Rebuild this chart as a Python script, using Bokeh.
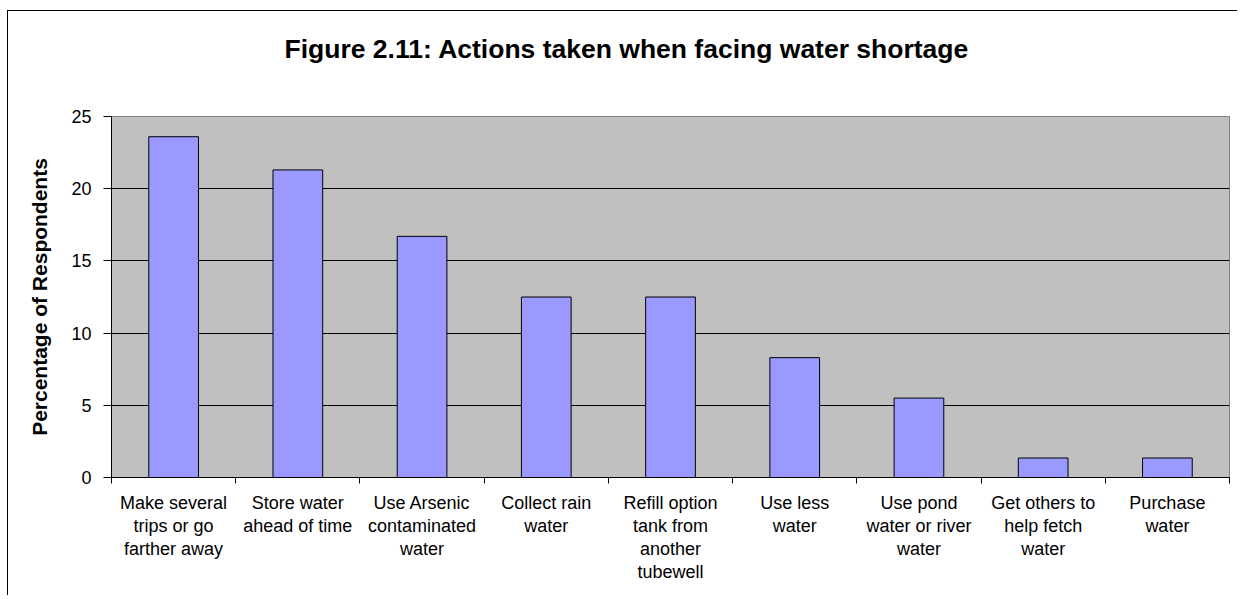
from bokeh.plotting import figure
from bokeh.models import FixedTicker, ColumnDataSource, Title
from bokeh.embed import file_html
from bokeh.resources import INLINE

title_text = "Figure 2.11: Actions taken when facing water shortage"
y_label = "Percentage of Respondents"
categories = [
    "Make several\ntrips or go\nfarther away",
    "Store water\nahead of time",
    "Use Arsenic\ncontaminated\nwater",
    "Collect rain\nwater",
    "Refill option\ntank from\nanother\ntubewell",
    "Use less\nwater",
    "Use pond\nwater or river\nwater",
    "Get others to\nhelp fetch\nwater",
    "Purchase\nwater",
]
values = [23.6, 21.3, 16.7, 12.5, 12.5, 8.3, 5.5, 1.35, 1.35]
y_ticks = [0, 5, 10, 15, 20, 25]

FONT = "Liberation Sans"
xs = list(range(1, len(categories) + 1))
src = ColumnDataSource(dict(x=xs, top=values))

p = figure(width=1230, height=585, output_backend="svg", toolbar_location=None,
           x_range=(0.5, len(categories) + 0.5), y_range=(0, 25),
           min_border_left=103, min_border_right=9, min_border_top=105, min_border_bottom=119)
p.title = Title(text=title_text, align="left", offset=173, standoff=0, vertical_align="top",
                text_font=FONT, text_font_size="26.5px", text_font_style="bold", text_color="black")
# blank spacer panel between the title and the plot frame
p.add_layout(Title(text=" ", standoff=38, text_font=FONT, text_font_size="10px"), "above")

p.background_fill_color = "#C0C0C0"
p.border_fill_color = "white"
p.outline_line_color = "#808080"
p.outline_line_width = 1
p.styles = {"margin-left": "7px", "margin-top": "10px",
            "border-left": "1px solid black", "border-top": "1px solid black"}

p.vbar(x="x", top="top", width=0.4, source=src, fill_color="#9999FF",
       line_color="black", line_width=1)

# x axis
p.xaxis.ticker = FixedTicker(ticks=xs, minor_ticks=[i + 0.5 for i in range(0, len(categories) + 1)])
p.xaxis.major_label_overrides = {x: c for x, c in zip(xs, categories)}
p.xaxis.major_tick_out = 0
p.xaxis.major_tick_in = 0
p.xaxis.minor_tick_out = 6
p.xaxis.minor_tick_in = 0
p.xaxis.major_label_standoff = 9
p.xaxis.major_label_text_font = FONT
p.xaxis.major_label_text_font_size = "18px"
p.xaxis.major_label_text_line_height = 1.15
p.xaxis.major_label_text_color = "black"
p.xaxis.axis_line_color = "black"
p.xaxis.major_tick_line_color = "black"
p.xaxis.minor_tick_line_color = "black"

# y axis
p.yaxis.ticker = FixedTicker(ticks=y_ticks)
p.yaxis.minor_tick_line_color = None
p.yaxis.major_tick_out = 8
p.yaxis.major_tick_in = 0
p.yaxis.major_label_standoff = 12
p.yaxis.major_label_text_font = FONT
p.yaxis.major_label_text_font_size = "18px"
p.yaxis.major_label_text_color = "black"
p.yaxis.axis_label = y_label
p.yaxis.axis_label_text_font = FONT
p.yaxis.axis_label_text_font_size = "21px"
p.yaxis.axis_label_text_font_style = "bold"
p.yaxis.axis_label_text_color = "black"
p.yaxis.axis_label_standoff = 17
p.yaxis.axis_line_color = "black"
p.yaxis.major_tick_line_color = "black"

p.xgrid.grid_line_color = None
p.ygrid.grid_line_color = "black"
p.ygrid.grid_line_width = 1

open("out.html", "w").write(file_html(p, INLINE))
